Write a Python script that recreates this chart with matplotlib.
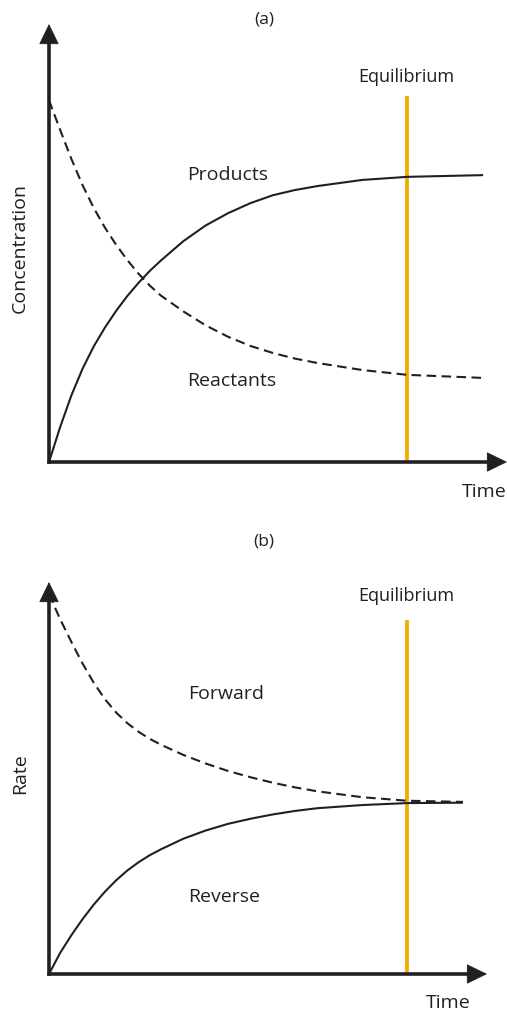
import numpy as np
import matplotlib.pyplot as plt

# time (arbitrary units, equilibrium at t = 8)
time_a = [0, 0.25, 0.5, 0.75, 1.0, 1.25, 1.5, 1.75, 2.0, 2.25, 2.5,
          3, 3.5, 4, 4.5, 5, 5.5, 6, 7, 8, 9.7]
products = [0, 0.80, 1.52, 2.13, 2.64, 3.07, 3.45, 3.79, 4.09, 4.36, 4.60,
            5.04, 5.40, 5.68, 5.91, 6.09, 6.21, 6.30, 6.44, 6.51, 6.55]
reactants = [8.26, 7.58, 6.92, 6.32, 5.80, 5.35, 4.96, 4.61, 4.30, 4.03, 3.80,
             3.44, 3.12, 2.86, 2.65, 2.49, 2.36, 2.26, 2.10, 1.99, 1.92]

time_b = [0, 0.25, 0.5, 0.75, 1.0, 1.25, 1.5, 1.75, 2.0, 2.25, 2.5,
          3, 3.5, 4, 4.5, 5, 5.5, 6, 7, 8, 9.25]
forward = [9.69, 9.05, 8.47, 7.92, 7.43, 7.01, 6.67, 6.40, 6.18, 6.00, 5.85,
           5.59, 5.37, 5.18, 5.02, 4.88, 4.76, 4.66, 4.51, 4.42, 4.39]
reverse = [0, 0.54, 0.99, 1.40, 1.77, 2.10, 2.39, 2.64, 2.85, 3.03, 3.18,
           3.45, 3.66, 3.83, 3.96, 4.07, 4.16, 4.23, 4.31, 4.36, 4.37]

t_eq = 8
eq_top_a = 8.36
eq_top_b = 9.03

W, H = 507, 1011
ink = '#231f20'
orange = '#f0ab00'
plt.rcParams['font.family'] = ['Open Sans', 'DejaVu Sans']

fig = plt.figure(figsize=(W / 100, H / 100), dpi=100)


def make_axes(x0, y0, x1, y1):
    # pixel box -> figure fraction
    return fig.add_axes([x0 / W, 1 - y0 / H, (x1 - x0) / W, (y0 - y1) / H])


def draw_frame(ax, w_px, h_px):
    ax.set_ylim(0, 10)
    ax.axis('off')
    head = 18  # px
    tr = ax.transAxes
    ax.plot([0, 0], [0, 1 - head / h_px], transform=tr, color=ink, lw=2.6,
            solid_capstyle='projecting', clip_on=False)
    ax.plot([0, 1 - head / w_px], [0, 0], transform=tr, color=ink, lw=2.6,
            solid_capstyle='projecting', clip_on=False)
    arrow = dict(arrowstyle='-|>,head_length=1.35,head_width=0.66', lw=0.6,
                 color=ink, mutation_scale=10, shrinkA=0, shrinkB=0,
                 joinstyle='miter')
    ax.annotate('', xy=(0, 1), xytext=(0, 0.8), xycoords='axes fraction',
                arrowprops=arrow, annotation_clip=False)
    ax.annotate('', xy=(1, 0), xytext=(0.8, 0), xycoords='axes fraction',
                arrowprops=arrow, annotation_clip=False)


dash = (4.6, 2.6)

# panel (a)
ax1 = make_axes(49, 462, 507, 24)
ax1.set_xlim(0, (507 - 49) / 44.75)
draw_frame(ax1, 507 - 49, 462 - 24)
ax1.plot([t_eq, t_eq], [0, eq_top_a], color=orange, lw=2.7, zorder=1,
         solid_capstyle='butt')
ax1.plot(time_a, products, color=ink, lw=1.5, solid_capstyle='butt')
ax1.plot(time_a, reactants, color=ink, lw=1.5, dashes=dash)

# panel (b)
ax2 = make_axes(49, 974, 487, 582)
ax2.set_xlim(0, (487 - 49) / 44.75)
draw_frame(ax2, 487 - 49, 974 - 582)
ax2.plot([t_eq, t_eq], [0, eq_top_b], color=orange, lw=2.7, zorder=1,
         solid_capstyle='butt')
ax2.plot(time_b, reverse, color=ink, lw=1.5, solid_capstyle='butt')
ax2.plot(time_b, forward, color=ink, lw=1.5, dashes=dash)


# labels, placed in figure pixels
def label(x, y, s, size=14, rot=0):
    fig.text(x / W, 1 - y / H, s, ha='center', va='center', fontsize=size,
             color=ink, rotation=rot)


label(264, 20, '(a)', 12.5)
label(406, 77, 'Equilibrium', 13)
label(228, 175, 'Products', 14)
label(232, 381, 'Reactants', 14)
label(20, 248, 'Concentration', 14, 90)
label(484, 492, 'Time', 14)

label(264, 541, '(b)', 12.5)
label(406, 596, 'Equilibrium', 13)
label(226, 694, 'Forward', 14)
label(224, 897, 'Reverse', 14)
label(20, 774, 'Rate', 14, 90)
label(448, 1003, 'Time', 14)

fig.savefig('out.png', dpi=100)
